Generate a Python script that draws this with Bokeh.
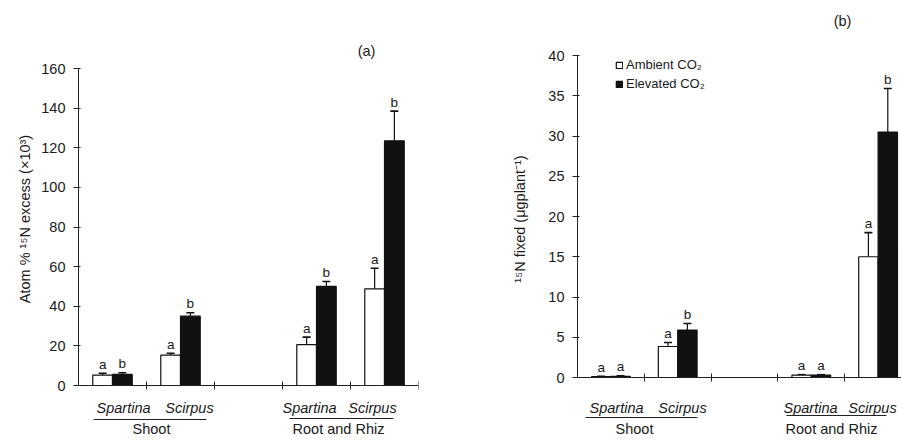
from bokeh.plotting import figure
from bokeh.layouts import row
from bokeh.models import (FixedTicker, Label, Whisker, ColumnDataSource,
                          Legend, LegendItem, TeeHead, Range1d)
from bokeh.embed import file_html
from bokeh.resources import INLINE
from bokeh.core.properties import value

# ---------------- data ----------------
species = ["Spartina", "Scirpus", "Spartina", "Scirpus"]
groups = ["Shoot", "Root and Rhiz"]
slot_centers = [0.5, 1.5, 3.5, 4.5]
slot_bounds = [1, 2, 3, 4, 5]

# (a) Atom % 15N excess (x10^3)
a_amb = [5.2, 15.3, 20.6, 48.8]
a_amb_err = [1.0, 1.0, 3.8, 10.4]
a_elev = [5.6, 35.0, 50.0, 123.5]
a_elev_err = [0.8, 1.7, 2.5, 15.0]
a_let_amb = ["a", "a", "a", "a"]
a_let_elev = ["b", "b", "b", "b"]
a_yticks = [0, 20, 40, 60, 80, 100, 120, 140, 160]

# (b) 15N fixed (ug plant-1)
b_amb = [0.1, 3.85, 0.3, 15.0]
b_amb_err = [0.05, 0.5, 0.05, 3.0]
b_elev = [0.15, 5.9, 0.3, 30.5]
b_elev_err = [0.05, 0.8, 0.05, 5.4]
b_let_amb = ["a", "a", "a", "a"]
b_let_elev = ["a", "b", "a", "b"]
b_yticks = [0, 5, 10, 15, 20, 25, 30, 35, 40]

FONT = "Liberation Sans"
TXT = "#1a1a1a"
INK = "#111111"
BAR_W = 0.29
FRAME_H = 437


def make_panel(amb, amb_err, elev, elev_err, let_amb, let_elev, yticks, ylabel,
               fig_x0, frame_x, axis_y, slot_px, label_px, bounds, group_lines,
               group_labels, tag, tag_px, standoff, legend=False):
    fl, fr = frame_x
    y0px, ytop_px = axis_y          # page y of value 0 and of the top tick
    ymax = yticks[-1]
    scale = (y0px - ytop_px) / ymax  # px per unit
    x_end = (fr - fl) / slot_px

    def xd(px):
        return (px - fl) / slot_px

    def yd(py):
        return (y0px - py) / scale

    p = figure(frame_width=fr - fl, frame_height=FRAME_H,
               output_backend="svg", toolbar_location=None,
               x_range=Range1d(0, x_end), y_range=Range1d(yd(FRAME_H), yd(0)),
               min_border_left=fl - fig_x0, min_border_right=0,
               min_border_top=0, min_border_bottom=0)
    p.outline_line_color = None
    p.xgrid.visible = False
    p.ygrid.visible = False
    p.background_fill_color = "white"
    p.border_fill_color = "white"

    x_amb = [c - BAR_W / 2 for c in slot_centers]
    x_elev = [c + BAR_W / 2 for c in slot_centers]
    r_amb = p.vbar(x=x_amb, top=amb, bottom=0, width=BAR_W, fill_color="white",
                   line_color=INK, line_width=1.2)
    r_elev = p.vbar(x=x_elev, top=elev, bottom=0, width=BAR_W, fill_color=INK,
                    line_color=INK, line_width=1.2)

    for xs, vals, errs, lets in ((x_amb, amb, amb_err, let_amb),
                                 (x_elev, elev, elev_err, let_elev)):
        up = [v + e for v, e in zip(vals, errs)]
        src = ColumnDataSource(dict(x=xs, lower=vals, upper=up, let=lets))
        p.add_layout(Whisker(base="x", lower="lower", upper="upper", source=src,
                             lower_head=None,
                             upper_head=TeeHead(size=8, line_width=1.6, line_color=INK),
                             line_width=1.2, line_color=INK))
        p.text(x="x", y="upper", text="let", source=src, text_align="center",
               text_baseline="alphabetic", y_offset=-9, text_color=TXT,
               text_font=value(FONT), text_font_size="13.5px")

    # y axis
    yax = p.yaxis[0]
    yax.ticker = FixedTicker(ticks=yticks)
    yax.bounds = (0, ymax)
    yax.major_tick_in = 2
    yax.major_tick_out = 5
    yax.minor_tick_line_color = None
    yax.major_label_standoff = 8
    yax.axis_label = ylabel
    yax.axis_label_standoff = standoff
    yax.major_label_text_font_size = "14.5px"

    # x axis at value 0, ticks at slot boundaries (labels drawn below as text)
    xax = p.xaxis[0]
    xax.fixed_location = 0
    xax.ticker = FixedTicker(ticks=[b for b in bounds if b <= x_end])
    xax.major_tick_in = 4
    xax.major_tick_out = 4
    xax.minor_tick_line_color = None
    xax.major_label_text_font_size = "0px"
    xax.major_label_text_color = None
    xax.major_label_standoff = 0

    for ax in (xax, yax):
        ax.axis_line_color = "#222222"
        ax.major_tick_line_color = "#222222"
        ax.major_label_text_font = FONT
        ax.axis_label_text_font = FONT
        ax.axis_label_text_color = TXT
        ax.axis_label_text_font_style = "normal"
        ax.axis_label_text_font_size = "14.5px"
    yax.major_label_text_color = TXT

    # category labels below the axis
    p.text(x=[xd(v) for v in label_px], y=[yd(407)] * len(species), text=species,
           text_align="center", text_baseline="middle", text_color=TXT,
           text_font=value(FONT), text_font_size="14.5px", text_font_style="italic")

    # group underlines and names
    p.segment(x0=[xd(g[0]) for g in group_lines], x1=[xd(g[1]) for g in group_lines],
              y0=[yd(g[2]) for g in group_lines], y1=[yd(g[2]) for g in group_lines],
              line_color="#222222", line_width=1)
    p.text(x=[xd(g[0]) for g in group_labels], y=[yd(g[1]) for g in group_labels],
           text=groups, text_align="center", text_baseline="middle", text_color=TXT,
           text_font=value(FONT), text_font_size="14.5px")

    p.add_layout(Label(x=xd(tag_px[0]), y=yd(tag_px[1]), text=tag, text_align="center",
                       text_baseline="middle", text_font=FONT,
                       text_font_size="14.5px", text_color=TXT))

    if legend:
        lg = Legend(items=[LegendItem(label="Ambient CO₂", renderers=[r_amb]),
                           LegendItem(label="Elevated CO₂", renderers=[r_elev])],
                    location=(38, FRAME_H - 92.5), glyph_width=8, glyph_height=8,
                    label_height=18, spacing=1, padding=0, margin=0,
                    label_standoff=3, border_line_color=None,
                    background_fill_alpha=0, label_text_font=FONT,
                    label_text_font_size="13px", label_text_color=TXT)
        p.add_layout(lg)
    return p


left = make_panel(a_amb, a_amb_err, a_elev, a_elev_err, a_let_amb, a_let_elev,
                  a_yticks, "Atom % ¹⁵N excess (×10³)",
                  fig_x0=0, frame_x=(78, 418), axis_y=(385, 68), slot_px=68,
                  label_px=[123, 189, 309, 372], bounds=slot_bounds,
                  group_lines=[(93, 206, 419), (289, 393, 418)],
                  group_labels=[(151, 428), (338, 428)],
                  tag="(a)", tag_px=(366, 50), standoff=5)
left.min_border_right = 70

right = make_panel(b_amb, b_amb_err, b_elev, b_elev_err, b_let_amb, b_let_elev,
                   b_yticks, "¹⁵N fixed (μgplant⁻¹)",
                   fig_x0=488, frame_x=(577, 901), axis_y=(377, 55), slot_px=66.8,
                   label_px=[616, 682, 810, 872], bounds=slot_bounds,
                   group_lines=[(585, 697, 417), (786, 886, 415)],
                   group_labels=[(634, 428), (831, 428)],
                   tag="(b)", tag_px=(842, 20), standoff=17, legend=True)

layout = row(left, right)
open("out.html", "w").write(file_html(layout, INLINE))
